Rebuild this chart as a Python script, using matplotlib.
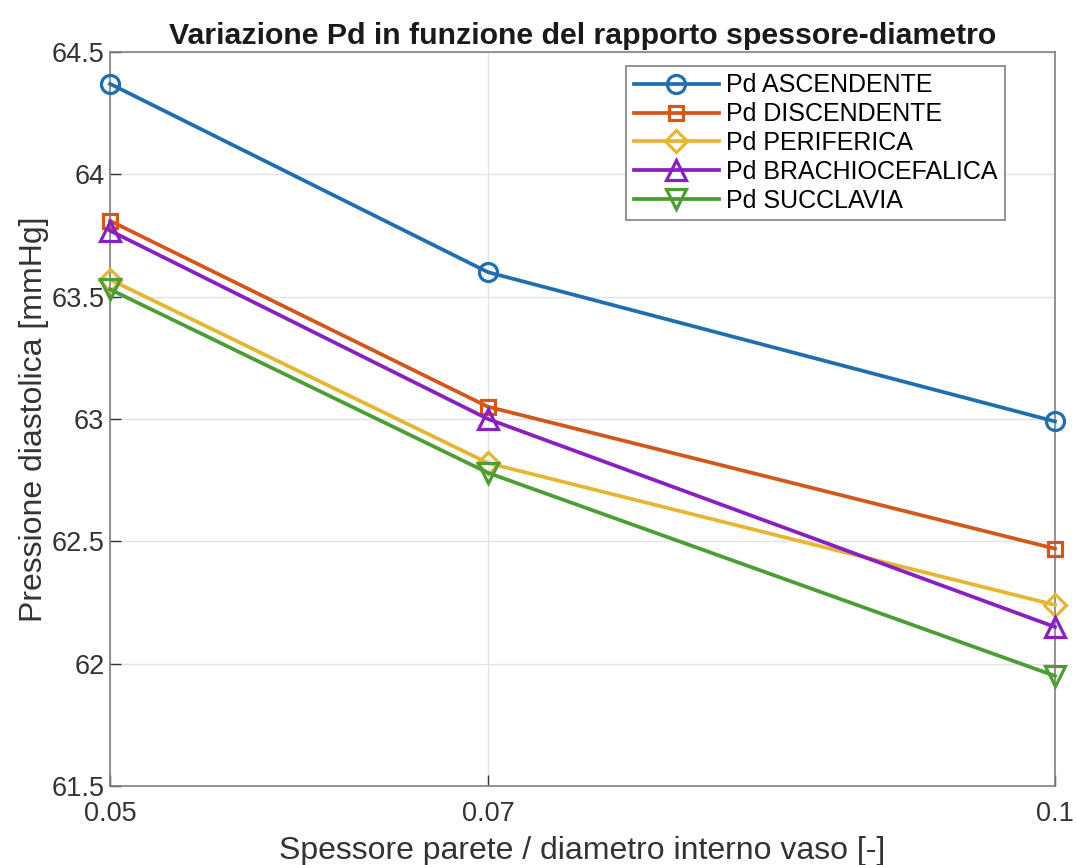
import matplotlib
matplotlib.use("Agg")
import matplotlib.pyplot as plt

plt.rcParams['font.family'] = ['Liberation Sans', 'DejaVu Sans']

# Wall thickness / inner diameter ratios
ratio = [0.05, 0.07, 0.1]

# Diastolic pressure [mmHg] per vessel
pd_ascendente = [64.37, 63.60, 62.99]
pd_discendente = [63.81, 63.05, 62.47]
pd_periferica = [63.57, 62.82, 62.24]
pd_brachiocefalica = [63.77, 63.00, 62.15]
pd_succlavia = [63.53, 62.78, 61.95]

labels = ['Pd ASCENDENTE', 'Pd DISCENDENTE', 'Pd PERIFERICA',
          'Pd BRACHIOCEFALICA', 'Pd SUCCLAVIA']
series = [pd_ascendente, pd_discendente, pd_periferica,
          pd_brachiocefalica, pd_succlavia]
colors = ['#1f6fb0', '#d3561a', '#e6b531', '#8a1fc0', '#4a9e34']
markers = ['o', 's', 'D', '^', 'v']
msizes = [13, 10, 11, 14, 14]

fig = plt.figure(figsize=(10.76, 8.65), dpi=100)
ax = fig.add_axes([110 / 1076, 1 - 786 / 865, 945 / 1076, 734 / 865])

for y, lab, c, m, ms in zip(series, labels, colors, markers, msizes):
    ax.plot(ratio, y, color=c, lw=2.7, marker=m, ms=ms, mfc='none',
            mec=c, mew=2.3, label=lab, clip_on=False, zorder=3)

ax.set_xlim(0.05, 0.1)
ax.set_ylim(61.5, 64.5)
ax.set_xticks([0.05, 0.07, 0.1])
ax.set_xticklabels(['0.05', '0.07', '0.1'])
ax.set_yticks([61.5, 62, 62.5, 63, 63.5, 64, 64.5])
ax.set_yticklabels(['61.5', '62', '62.5', '63', '63.5', '64', '64.5'])
ax.grid(True, color='#e3e3e3', lw=1.0)
ax.set_axisbelow(True)
ax.tick_params(direction='in', length=8, width=1, colors='#333333',
               labelsize=19.5, top=False, right=False, pad=4)
ax.tick_params(axis='x', pad=11)
for s in ax.spines.values():
    s.set_color('#808080')
    s.set_linewidth(1.2)

ax.set_title('Variazione Pd in funzione del rapporto spessore-diametro',
             fontsize=21.8, fontweight='bold', color='#1a1a1a', pad=6)
ax.set_xlabel('Spessore parete / diametro interno vaso [-]', fontsize=23,
              color='#333333', labelpad=6)
ax.set_ylabel('Pressione diastolica [mmHg]', fontsize=23, color='#333333',
              labelpad=2)

leg = ax.legend(loc='upper right',
                bbox_to_anchor=((1005 - 110) / 945, 1 - 14 / 734),
                fontsize=18, frameon=True, fancybox=False, edgecolor='#606060',
                handlelength=3.4, handletextpad=0.3, labelspacing=0.19,
                borderpad=0.3, borderaxespad=0)
leg.get_frame().set_linewidth(1.2)

fig.savefig('out.png', dpi=100, facecolor='white')
